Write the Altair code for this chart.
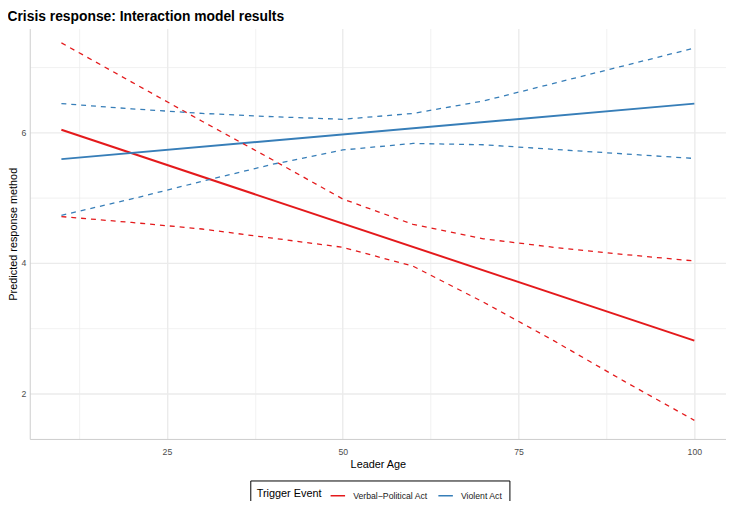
import altair as alt
import pandas as pd

# ---- data ----
groups = ["Verbal\u2212Political Act", "Violent Act"]
colors = ["#E41A1C", "#377EB8"]

fit_ages = [10, 100]
verbal_fit = [6.04, 2.81]
violent_fit = [5.59, 6.44]

band_ages = [10, 20, 30, 40, 50, 60, 70, 80, 90, 100]
verbal_upper = [7.37, 6.77, 6.17, 5.58, 4.98, 4.59, 4.37, 4.24, 4.13, 4.03]
verbal_lower = [4.71, 4.62, 4.52, 4.38, 4.24, 3.95, 3.40, 2.81, 2.19, 1.59]
violent_upper = [6.44, 6.36, 6.29, 6.24, 6.20, 6.29, 6.48, 6.75, 7.02, 7.29]
violent_lower = [4.73, 4.98, 5.25, 5.51, 5.73, 5.83, 5.81, 5.74, 5.67, 5.60]

x_grid_values = [12.5, 25, 37.5, 50, 62.5, 75, 87.5, 100]
y_grid_values = [2, 3, 4, 5, 6, 7]

# ---- tables ----
fit_rows = []
for g, vals in zip(groups, [verbal_fit, violent_fit]):
    for a, v in zip(fit_ages, vals):
        fit_rows.append({"age": a, "value": v, "group": g})
fit_df = pd.DataFrame(fit_rows)

band_rows = []
for g, lo, hi in zip(groups, [verbal_lower, violent_lower], [verbal_upper, violent_upper]):
    for a, v in zip(band_ages, lo):
        band_rows.append({"age": a, "value": v, "group": g, "bound": "lower"})
    for a, v in zip(band_ages, hi):
        band_rows.append({"age": a, "value": v, "group": g, "bound": "upper"})
band_df = pd.DataFrame(band_rows)

FONT = "Liberation Sans"
GRID = "#EBEBEB"

x_enc = alt.X(
    "age:Q",
    title="Leader Age",
    scale=alt.Scale(domain=[5.5, 104.5], nice=False, zero=False),
    axis=alt.Axis(
        values=x_grid_values,
        format="d",
        labelExpr="datum.value % 25 == 0 ? datum.label : ''",
        labelOverlap=False,
        labelFlush=False,
        ticks=False,
        tickSize=0,
        labelPadding=9,
        labelFontSize=8.8,
        labelColor="#4D4D4D",
        titleFontSize=11,
        titleFontWeight="normal",
        titleColor="#000000",
        titlePadding=2,
        grid=True,
        gridColor=GRID,
        gridWidth={"condition": {"test": "datum.value % 25 == 0", "value": 1.4}, "value": 0.7},
        domain=True,
        domainColor="#CCCCCC",
        domainWidth=1,
    ),
)

y_enc = alt.Y(
    "value:Q",
    title="Predicted response method",
    scale=alt.Scale(domain=[1.305, 7.59], nice=False, zero=False),
    axis=alt.Axis(
        values=y_grid_values,
        format="d",
        labelExpr="datum.value % 2 == 0 ? datum.label : ''",
        labelOverlap=False,
        labelFlush=False,
        ticks=False,
        tickSize=0,
        labelPadding=4,
        labelFontSize=8.8,
        labelColor="#4D4D4D",
        titleFontSize=11,
        titleFontWeight="normal",
        titleColor="#000000",
        titleX=-16.5,
        titleBaseline="middle",
        grid=True,
        gridColor=GRID,
        gridWidth={"condition": {"test": "datum.value % 2 == 0", "value": 1.4}, "value": 0.7},
        domain=True,
        domainColor="#CCCCCC",
        domainWidth=1,
    ),
)

color_scale = alt.Scale(domain=groups, range=colors)
legend = alt.Legend(
    orient="none",
    legendX=223,
    legendY=457,
    direction="horizontal",
    titleOrient="left",
    titleAnchor="middle",
    titleBaseline="middle",
    titleFontSize=11,
    titleFontWeight="normal",
    titleColor="#000000",
    titlePadding=7.5,
    labelFontSize=8.8,
    labelColor="#1A1A1A",
    labelOffset=7,
    columnPadding=7,
    symbolType="stroke",
    symbolSize=215,
    symbolStrokeWidth=1.5,
    symbolDash=[1, 0],
    padding=6.5,
    strokeColor="#000000",
)
color_enc = alt.Color("group:N", scale=color_scale, title="Trigger Event", legend=legend)

fit_layer = alt.Chart(fit_df).mark_line(strokeWidth=2).encode(
    x=x_enc,
    y=y_enc,
    color=color_enc,
)

band_layer = alt.Chart(band_df).mark_line(strokeWidth=1.3, strokeDash=[5, 5]).encode(
    x=alt.X("age:Q"),
    y=alt.Y("value:Q"),
    color=color_enc,
    detail="bound:N",
)

chart = (
    alt.layer(fit_layer, band_layer)
    .properties(
        width=704,
        height=415,
        title=alt.TitleParams(
            text="Crisis response: Interaction model results",
            anchor="start",
            fontSize=14,
            fontWeight="bold",
            font=FONT,
            color="#000000",
            offset=5,
        ),
        autosize=alt.AutoSizeParams(type="none"),
        padding={"left": 22, "top": 18, "right": 0, "bottom": 60},
    )
    .configure(font=FONT)
    .configure_view(stroke=None)
)

chart.save("out.html", embed_options={"renderer": "svg", "actions": False})
